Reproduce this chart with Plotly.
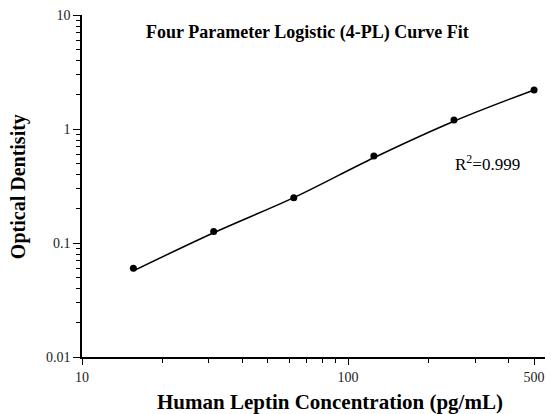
import plotly.graph_objects as go

# Standards (measured points)
conc = [15.6, 31.25, 62.5, 125, 250, 500]
od = [0.060, 0.126, 0.250, 0.58, 1.20, 2.20]

# Fitted curve
curve_x = [15.6, 31.25, 62.5, 125, 250, 500]
curve_y = [0.057, 0.123, 0.250, 0.56, 1.17, 2.20]

x_labels = [10, 100, 500]
x_minor = [20, 30, 40, 50, 60, 70, 80, 90, 200, 300, 400]
y_labels = [0.01, 0.1, 1, 10]
y_minor = [m * d for d in (0.01, 0.1, 1) for m in range(2, 10)]

title_text = "Four Parameter Logistic (4-PL) Curve Fit"
x_title = "Human Leptin Concentration (pg/mL)"
y_title = "Optical Dentisity"
r2_text = "R<sup>2</sup>=0.999"

serif = "Liberation Serif, Times New Roman, serif"

fig = go.Figure()
fig.add_trace(go.Scatter(x=curve_x, y=curve_y, mode="lines",
                         line=dict(color="black", width=1.5, shape="spline"),
                         showlegend=False, hoverinfo="skip"))
fig.add_trace(go.Scatter(x=conc, y=od, mode="markers",
                         marker=dict(color="black", size=7),
                         showlegend=False))

fig.update_layout(
    width=551, height=414,
    margin=dict(l=82, r=6, t=15, b=57),
    plot_bgcolor="white", paper_bgcolor="white",
    font=dict(family=serif, color="black"),
    xaxis=dict(type="log", range=[1, 2.74], showgrid=False, zeroline=False,
               automargin=False,
               showline=True, linecolor="black", linewidth=1.5,
               ticks="outside", ticklen=6, tickcolor="black",
               tickmode="array", tickvals=x_labels,
               ticktext=[str(v) for v in x_labels],
               tickfont=dict(family=serif, size=14, color="#222"),
               minor=dict(tickmode="array", tickvals=x_minor, ticks="outside",
                          ticklen=4, tickcolor="black")),
    yaxis=dict(type="log", range=[-2, 1], showgrid=False, zeroline=False,
               automargin=False,
               showline=True, linecolor="black", linewidth=1.5,
               ticks="outside", ticklen=7, tickcolor="black",
               tickmode="array", tickvals=y_labels,
               ticktext=["0.01", "0.1", "1", "10"],
               tickfont=dict(family=serif, size=14, color="#222"),
               minor=dict(tickmode="array", tickvals=y_minor, ticks="outside",
                          ticklen=4, tickcolor="black")),
    annotations=[
        dict(text="<b>" + title_text + "</b>", xref="paper", yref="paper",
             x=0.488, y=0.950, xanchor="center", yanchor="middle",
             showarrow=False,
             font=dict(family=serif, size=18, color="black")),
        dict(text="<b>" + x_title + "</b>", xref="paper", yref="paper",
             x=0.536, y=-0.132, xanchor="center", yanchor="middle",
             showarrow=False,
             font=dict(family=serif, size=21, color="black")),
        dict(text="<b>" + y_title + "</b>", xref="paper", yref="paper",
             x=-0.138, y=0.497, xanchor="center", yanchor="middle",
             showarrow=False, textangle=-90,
             font=dict(family=serif, size=20, color="black")),
        dict(text=r2_text, xref="paper", yref="paper",
             x=0.875, y=0.567, xanchor="center", yanchor="middle",
             showarrow=False,
             font=dict(family=serif, size=17, color="black")),
    ],
)

fig.write_html("out.html",
               config={"displayModeBar": False},
               post_script="document.body.style.margin='0';"
                           "document.body.style.overflow='hidden';")
